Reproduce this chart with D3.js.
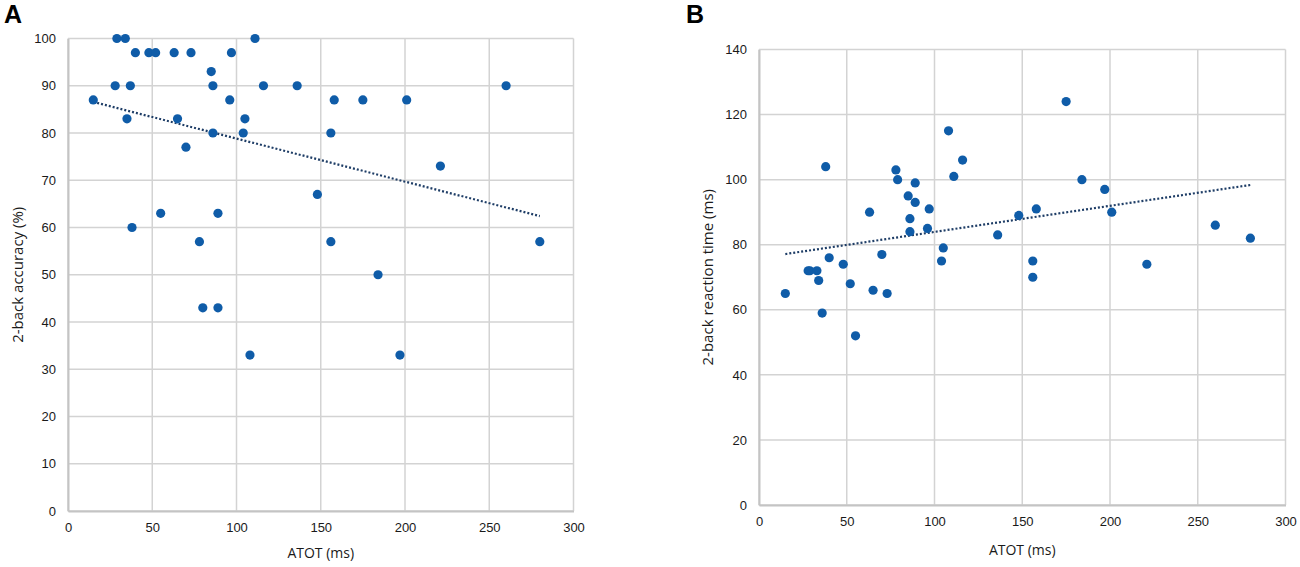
<!DOCTYPE html>
<html>
<head>
<meta charset="utf-8">
<script src="https://cdn.jsdelivr.net/npm/d3@7"></script>
<style>
  body { margin: 0; background: #fff; }
  svg { display: block; font-family: "Open Sans", "Liberation Sans", sans-serif; }
</style>
</head>
<body>
<div id="chart"></div>
<script>
// panel A: ATOT vs 2-back accuracy
const atotA = [15, 29, 34, 28, 37, 35, 40, 48, 52, 63, 73, 97, 111, 38, 55, 65, 70, 78, 85, 86, 86, 89, 96, 104, 105,
    116, 136, 148, 156, 156, 158, 175, 201, 260, 221, 280, 184, 80, 89, 108, 197];
const accuracy = [87, 100, 100, 90, 90, 83, 97, 97, 97, 97, 97, 97, 100, 60, 63, 83, 77, 57, 93, 90, 80, 63, 87, 80, 83,
    90, 90, 67, 80, 57, 87, 87, 87, 90, 73, 57, 50, 43, 43, 33, 33];

// panel B: ATOT vs 2-back reaction time
const atotB = [15, 28, 29, 33, 34, 36, 38, 40, 48, 52, 55, 63, 65, 70, 73, 78, 79, 85, 86, 86, 89, 89, 96, 97, 104,
    105, 108, 111, 116, 136, 148, 156, 156, 158, 175, 184, 197, 201, 221, 260, 280];
const reactionTime = [65, 72, 72, 72, 69, 59, 104, 76, 74, 68, 52, 90, 66, 77, 65, 103, 100, 95, 88, 84, 99, 93, 85, 91, 75,
    79, 115, 101, 106, 83, 89, 75, 70, 91, 124, 100, 97, 90, 74, 86, 82];

const xTicks = [0, 50, 100, 150, 200, 250, 300];
const yTicksA = [0, 10, 20, 30, 40, 50, 60, 70, 80, 90, 100];
const yTicksB = [0, 20, 40, 60, 80, 100, 120, 140];

const width = 1300;
const height = 567;
const dotColor = "#0f5ca8";
const trendColor = "#1e3d66";
const gridColor = "#d3d3d3";

const svg = d3.select("#chart")
    .append("svg")
    .attr("width", width)
    .attr("height", height);

function linearFit(xs, ys) {
    const mx = d3.mean(xs);
    const my = d3.mean(ys);
    let num = 0, den = 0;
    for (let i = 0; i < xs.length; i++) {
        num += (xs[i] - mx) * (ys[i] - my);
        den += (xs[i] - mx) * (xs[i] - mx);
    }
    const slope = num / den;
    return x => my + slope * (x - mx);
}

function renderPanel(opts) {
    const g = svg.append("g");

    const xScale = d3.scaleLinear().domain([0, 300]).range([opts.left, opts.right]);
    const yScale = d3.scaleLinear().domain(opts.yDomain).range([opts.bottom, opts.top]);

    // grid
    g.selectAll(".vgrid")
        .data(xTicks)
        .enter()
        .append("line")
        .attr("x1", d => xScale(d))
        .attr("x2", d => xScale(d))
        .attr("y1", opts.top)
        .attr("y2", opts.bottom)
        .attr("stroke", gridColor)
        .attr("stroke-width", 1.5);

    g.selectAll(".hgrid")
        .data(opts.yTicks)
        .enter()
        .append("line")
        .attr("x1", opts.left)
        .attr("x2", opts.right)
        .attr("y1", d => yScale(d))
        .attr("y2", d => yScale(d))
        .attr("stroke", gridColor)
        .attr("stroke-width", 1.5);

    // axes (labels only, Excel style)
    const xAxis = g.append("g")
        .attr("transform", `translate(0, ${opts.bottom})`)
        .call(d3.axisBottom(xScale).tickValues(xTicks).tickSize(0).tickPadding(12));
    xAxis.select(".domain").attr("stroke", "#c4c4c4").attr("stroke-width", 2);
    xAxis.selectAll("text").attr("fill", "#1a1a1a").attr("font-size", "13px");

    const yAxis = g.append("g")
        .attr("transform", `translate(${opts.left}, 0)`)
        .call(d3.axisLeft(yScale).tickValues(opts.yTicks).tickSize(0).tickPadding(12));
    yAxis.select(".domain").attr("stroke", "#c4c4c4").attr("stroke-width", 2);
    yAxis.selectAll("text").attr("fill", "#1a1a1a").attr("font-size", "13px");

    // trend line
    const fit = linearFit(opts.xs, opts.ys);
    const xMin = d3.min(opts.xs);
    const xMax = d3.max(opts.xs);
    g.append("line")
        .attr("x1", xScale(xMin))
        .attr("y1", yScale(fit(xMin)))
        .attr("x2", xScale(xMax))
        .attr("y2", yScale(fit(xMax)))
        .attr("stroke", trendColor)
        .attr("stroke-width", 2.2)
        .attr("stroke-dasharray", "2,2");

    // points
    g.selectAll(".dot")
        .data(opts.xs.map((x, i) => ({ x: x, y: opts.ys[i] })))
        .enter()
        .append("circle")
        .attr("cx", d => xScale(d.x))
        .attr("cy", d => yScale(d.y))
        .attr("r", 4.6)
        .attr("fill", dotColor);

    // titles
    g.append("text")
        .attr("x", (opts.left + opts.right) / 2)
        .attr("y", opts.xTitleY)
        .attr("text-anchor", "middle")
        .attr("fill", "#1a1a1a")
        .attr("font-size", "14px")
        .text("ATOT (ms)");

    g.append("text")
        .attr("transform", `translate(${opts.yTitleX}, ${(opts.top + opts.bottom) / 2}) rotate(-90)`)
        .attr("text-anchor", "middle")
        .attr("fill", "#1a1a1a")
        .attr("font-size", "15px")
        .text(opts.yTitle);

    g.append("text")
        .attr("x", opts.letterX)
        .attr("y", 23)
        .attr("fill", "#000")
        .attr("font-size", "25px")
        .attr("font-weight", "bold")
        .attr("font-family", "Liberation Sans, Arial, sans-serif")
        .text(opts.letter);
}

renderPanel({
    letter: "A", letterX: 4,
    left: 68, right: 573.5, top: 38.5, bottom: 511,
    yDomain: [0, 100], yTicks: yTicksA,
    xs: atotA, ys: accuracy,
    yTitle: "2-back accuracy (%)", yTitleX: 23, xTitleY: 558
});

renderPanel({
    letter: "B", letterX: 686,
    left: 759, right: 1285.5, top: 49.5, bottom: 505,
    yDomain: [0, 140], yTicks: yTicksB,
    xs: atotB, ys: reactionTime,
    yTitle: "2-back reaction time (ms)", yTitleX: 713, xTitleY: 555
});
</script>
</body>
</html>
